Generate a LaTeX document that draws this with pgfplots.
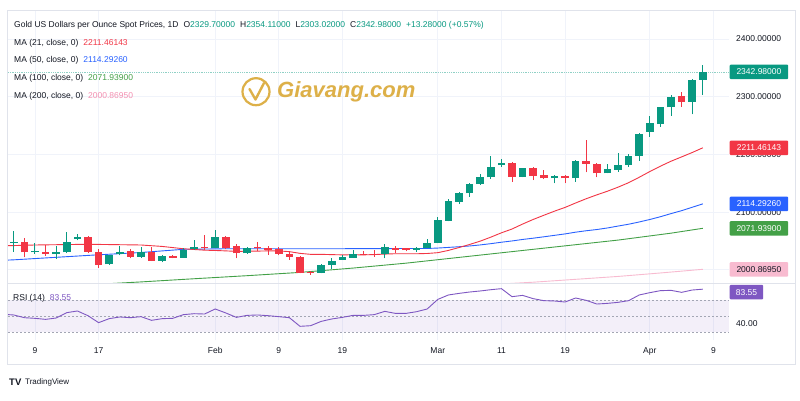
\documentclass[border=0pt]{standalone}
\usepackage{fontspec}
\setmainfont{Liberation Sans}
\usepackage{pgfplots}
\usepackage{pgfplotstable}
\pgfplotsset{compat=1.18}

\definecolor{tvtext}{HTML}{131722}
\definecolor{up}{HTML}{089981}
\definecolor{dn}{HTML}{F23645}
\definecolor{maA}{HTML}{F23645}
\definecolor{maB}{HTML}{2962FF}
\definecolor{maC}{HTML}{43A047}
\definecolor{maD}{HTML}{F8BBD0}
\definecolor{maDtxt}{HTML}{F48FB1}
\definecolor{rsic}{HTML}{7E57C2}
\definecolor{gridc}{HTML}{F0F3FA}
\definecolor{framec}{HTML}{E0E3EB}
\definecolor{goldc}{HTML}{DDB048}
\definecolor{dashc}{HTML}{A3A6B4}

% bars: day index d (0 = 9 Jan), open, high, low, close
\pgfplotstableread{
d o h l c
-2 2047 2067 2031 2049
0 2030 2046 2028 2033
2 2027 2042 2019 2030
3 2030 2066 2029 2049
4 2053 2061.5 2051 2057.4
7 2009.5 2026 2009 2025.6
8 2027 2042 2025 2031.4
10 2023 2040 2021 2031
12 2015.8 2026 2013 2023.4
14 2021 2038 2021 2034
15 2036 2051.6 2034 2039
17 2037.3 2069 2037 2057.4
20 2028.6 2040 2028 2038
27 1995 2009.6 1994 2008
28 2008 2020 2001 2015
29 2017.5 2025 2017 2022.7
30 2021 2034 2021 2027
33 2027 2044 2020 2040
36 2034 2039 2031 2037
37 2037 2053 2037 2047
38 2047 2092 2046 2086
39 2085 2122 2084 2119.8
40 2118 2135.4 2114 2132.6
41 2132.6 2151 2126.7 2148.7
42 2148.7 2166 2147 2160
43 2160 2197 2157 2178.7
44 2181.6 2191.5 2179 2185.6
46 2161.5 2176 2160 2176
49 2158.6 2165 2150 2163
51 2158.6 2190 2152.7 2188.6
54 2167 2184 2167 2174
55 2173 2202 2170 2181.6
56 2181.6 2200 2179 2197.2
57 2197.2 2237 2188.6 2235
58 2239.4 2267 2230.7 2254
59 2252.7 2283 2248 2281.6
60 2281.6 2303 2267 2300
62 2291 2330.5 2269.5 2329.7
63 2329.7 2354.11 2303.02 2342.98
}\upbars

\pgfplotstableread{
d o h l c
-1 2048.7 2054.6 2021.7 2030
1 2031.4 2043 2024.4 2027
5 2056.3 2058 2028.6 2031.4
6 2031.4 2036 2003.6 2008.3
9 2032.6 2036 2020 2022.7
11 2030 2040 2015 2015.8
13 2023.4 2025 2020 2021
16 2039.5 2060 2034.5 2037.3
18 2057 2059 2036 2037
19 2041 2044 2020 2028.6
21 2039.5 2049 2032 2037
22 2038 2041 2026 2035
23 2036 2039 2025 2028
24 2027 2030 2017 2023
25 2023 2024 1994 1995
26 1997 1998 1991 1994.5
31 2028 2032 2025 2026.5
32 2028 2034 2023 2026.5
34 2038 2042 2029 2035
35 2037 2038 2032 2034
45 2185.6 2186 2153 2161.5
47 2176 2179 2155.6 2163
48 2164.3 2173 2157 2158.6
50 2163 2165 2150 2158.6
52 2188.6 2225 2169 2183.4
53 2183.4 2185 2160 2167
61 2301 2307.6 2282.7 2291
}\downbars

\pgfplotsset{
  tvpane/.style={
    scale only axis, width=721pt,
    xmin=-2.547, xmax=65.47,
    axis line style={draw=none},
    major tick length=0pt,
    xtick={0,6,17,23,29,38,44,50,58,64},
    xmajorgrids, grid style={gridc, line width=0.7pt},
    clip=true,
  },
  wick/.style={draw=none, mark=none, forget plot,
    error bars/.cd, y dir=plus, y explicit, error mark=none,
    error bar style={draw=#1, line width=1pt, solid}},
  body/.style={draw=none, mark=none, forget plot,
    error bars/.cd, y dir=plus, y explicit, error mark=none,
    error bar style={draw=#1, line width=7.5pt, solid}},
}

\begin{document}
\begin{tikzpicture}[x=1pt, y=1pt, every node/.style={font=\fontsize{8.5}{10}\selectfont, text=tvtext}]
\path[use as bounding box] (0,0) rectangle (800,400);
\fill[white] (0,0) rectangle (800,400);

% price pane
\begin{axis}[tvpane, at={(8pt,116.7pt)}, anchor=south west, height=273.3pt,
  ymin=1976.6, ymax=2450.3,
  ytick={2000,2100,2200,2300,2400}, ymajorgrids,
  xticklabels={}, yticklabels={}]
  % current price line
  \addplot[up!45, densely dotted, line width=0.8pt, forget plot] coordinates {(-2.547,2342.98) (65.47,2342.98)};
  % moving averages
  \addplot[maD, line width=0.9pt] coordinates {(43,1974.5) (47,1978.5) (51,1983.5) (55,1988.5) (59,1994.5) (63,2000.87)};
  \addplot[maC, line width=0.9pt] coordinates {(5,1974.0) (10,1979.0) (15,1984.5) (20,1989.8) (25,1995.5) (30,2003.0) (35,2011.5) (40,2021.5) (45,2031.5) (50,2041.5) (55,2051.5) (60,2063.5) (63,2071.94)};
  \addplot[maB, line width=0.9pt] coordinates {(-3,2016.5) (-2,2017.3) (1.4,2021) (5.7,2025.7) (10,2030) (14,2035.5) (18,2036.5) (22,2036.5) (28,2036.5) (33,2036.8) (37,2037) (38,2037.7) (39,2038.8) (40,2040.0) (41,2041.3) (42,2043.1) (43,2045.3) (44,2047.8) (45,2050.0) (46,2052.6) (47,2054.8) (48,2057.2) (49,2059.7) (50,2062.2) (51,2065.2) (52,2067.7) (53,2069.8) (54,2072.5) (55,2075.8) (56,2079.0) (57,2082.9) (58,2087.2) (59,2092.0) (60,2097.4) (61,2102.5) (62,2108.4) (63,2114.29)};
  \addplot[maA, line width=0.9pt] coordinates {(-3,2042) (-2,2042) (0,2043) (2,2043.5) (4,2044) (6,2044) (8,2043.5) (10,2043) (12,2040.5) (14,2036.5) (16,2034) (17,2033.5) (18,2032.8) (19,2031.9) (20,2032.2) (21,2032.4) (22,2032.8) (23,2032.7) (24,2031.5) (25,2028.5) (26,2026.8) (27,2026.8) (28,2026.3) (29,2025.9) (30,2026.1) (31,2025.9) (32,2026.4) (33,2027.2) (34,2027.9) (35,2027.9) (36,2027.8) (37,2028.3) (38,2029.7) (39,2033.6) (40,2038.6) (41,2043.9) (42,2049.7) (43,2056.6) (44,2064.1) (45,2070.7) (46,2079.3) (47,2087.3) (48,2094.5) (49,2101.6) (50,2108.1) (51,2115.8) (52,2123.2) (53,2129.9) (54,2136.2) (55,2143.2) (56,2151.0) (57,2160.4) (58,2170.3) (59,2179.6) (60,2188.2) (61,2195.7) (62,2203.3) (63,2211.46)};
  % candles: wicks then bodies
  \addplot[wick=up] table[x=d, y=l, y error expr=\thisrow{h}-\thisrow{l}] {\upbars};
  \addplot[wick=dn] table[x=d, y=l, y error expr=\thisrow{h}-\thisrow{l}] {\downbars};
  \addplot[body=up] table[x=d, y=o, y error expr=\thisrow{c}-\thisrow{o}] {\upbars};
  \addplot[body=dn] table[x=d, y=c, y error expr=\thisrow{o}-\thisrow{c}] {\downbars};
  \coordinate (pC) at (axis cs:65.47,2342.98);
  \coordinate (pA) at (axis cs:65.47,2211.46);
  \coordinate (pB) at (axis cs:65.47,2114.29);
  \coordinate (pG) at (axis cs:65.47,2071.94);
  \coordinate (pD) at (axis cs:65.47,2000.87);
  \coordinate (t24) at (axis cs:65.47,2400);
  \coordinate (t23) at (axis cs:65.47,2300);
  \coordinate (t22) at (axis cs:65.47,2200);
  \coordinate (t21) at (axis cs:65.47,2100);
  \coordinate (t20) at (axis cs:65.47,2000);
\end{axis}

% RSI pane
\begin{axis}[tvpane, at={(8pt,60pt)}, anchor=south west, height=56.7pt,
  ymin=20, ymax=90.9, ytick=\empty,
  xticklabels={9,17,Feb,9,19,Mar,11,19,Apr,9},
  x tick label style={anchor=base, yshift=-13.8pt, font=\fontsize{8.5}{10}\selectfont, text=tvtext}]
  \addplot[draw=none, fill=rsic, fill opacity=0.09, forget plot] coordinates {(-2.547,30) (65.47,30) (65.47,70) (-2.547,70)} -- cycle;
  \addplot[dashc, dash pattern=on 2pt off 2pt, line width=0.7pt] coordinates {(-2.547,70) (65.47,70)};
  \addplot[dashc, dash pattern=on 2pt off 2pt, line width=0.7pt] coordinates {(-2.547,50) (65.47,50)};
  \addplot[dashc, dash pattern=on 2pt off 2pt, line width=0.7pt] coordinates {(-2.547,30) (65.47,30)};
  \addplot[rsic, line width=0.9pt] coordinates {(-3,52.1) (-2,51.3) (-1,47.9) (0,47.1) (1,45.8) (2,47.5) (3,54.2) (4,56.3) (5,50.4) (6,41.7) (7,46.7) (8,48.8) (9,47.9) (10,49.2) (11,44.6) (12,46.7) (13,47.1) (14,51.7) (15,52.9) (16,52.5) (17,58.8) (18,53.8) (19,48.3) (20,50.8) (21,51.3) (22,50.4) (23,49.2) (24,47.9) (25,37.1) (26,37.9) (27,43.3) (28,46.3) (29,48.3) (30,50.8) (31,50.8) (32,51.7) (33,55.8) (34,53.3) (35,53.3) (36,55.4) (37,58.8) (38,70.8) (39,76.3) (40,78.3) (41,80.0) (42,81.3) (43,82.9) (44,84.2) (45,74.2) (46,75.8) (47,71.7) (48,69.2) (49,68.8) (50,67.5) (51,72.5) (52,69.6) (53,65.0) (54,65.8) (55,67.1) (56,69.2) (57,76.3) (58,79.2) (59,81.7) (60,82.1) (61,79.6) (62,82.5) (63,83.55)};
  \coordinate (pR) at (axis cs:65.47,83.55);
  \coordinate (t40) at (axis cs:65.47,40);
\end{axis}

% frame and pane separator
\draw[framec, line width=0.8pt] (7.5,390) rectangle (795,36);
\draw[framec, line width=0.8pt] (7.5,116.7) -- (795,116.7);

% price scale
\foreach \c/\t in {t24/2400.00000, t23/2300.00000, t22/2200.00000, t21/2100.00000, t20/2000.00000}
  \node[anchor=west, inner sep=0pt] at ([xshift=7pt]\c) {\t};
\node[anchor=west, inner sep=0pt] at ([xshift=7pt]t40) {40.00};
\foreach \c/\col/\tc/\t in {pC/up/white/2342.98000, pA/dn/white/2211.46143, pB/maB/white/2114.29260, pG/maC/white/2071.93900, pD/maD/tvtext/2000.86950}
  \node[anchor=west, fill=\col, text=\tc, minimum width=58.5pt, minimum height=14.5pt, inner sep=0pt, rounded corners=1pt] at ([xshift=0.5pt]\c) {\t};
\node[anchor=west, fill=rsic, text=white, minimum width=33.5pt, minimum height=14.5pt, inner sep=0pt, rounded corners=1pt] at ([xshift=0.5pt,yshift=-3pt]pR) {83.55};

% legend texts
\node[anchor=west, inner sep=0pt] at (14,375) {Gold US Dollars per Ounce Spot Prices, 1D\hspace{5pt}O\textcolor{up}{2329.70000}\hspace{5pt}H\textcolor{up}{2354.11000}\hspace{5pt}L\textcolor{up}{2303.02000}\hspace{5pt}C\textcolor{up}{2342.98000}\hspace{5pt}\textcolor{up}{+13.28000 (+0.57\%)}};
\node[anchor=west, inner sep=0pt] at (14,357) {MA (21, close, 0)\hspace{5pt}\textcolor{maA}{2211.46143}};
\node[anchor=west, inner sep=0pt] at (14,339.3) {MA (50, close, 0)\hspace{5pt}\textcolor{maB}{2114.29260}};
\node[anchor=west, inner sep=0pt] at (14,321.7) {MA (100, close, 0)\hspace{5pt}\textcolor{maC}{2071.93900}};
\node[anchor=west, inner sep=0pt] at (14,304) {MA (200, close, 0)\hspace{5pt}\textcolor{maDtxt}{2000.86950}};
\node[anchor=west, inner sep=0pt] at (13,102) {RSI (14)\hspace{5pt}\textcolor{rsic}{83.55}};

% watermark
\draw[goldc, line width=2.2pt] (256,308.3) circle (13.5);
\draw[goldc, line width=2.4pt, line cap=round, line join=round] (249.5,311) -- (255.5,300.5) -- (264,317);
\node[anchor=west, inner sep=0pt, text=goldc, font=\fontsize{22}{24}\selectfont\bfseries\itshape] at (277,308.3) {Giavang.com};

% footer
\node[anchor=west, inner sep=0pt, font=\fontsize{9.5}{10}\selectfont\bfseries] at (9,18) {TV};
\node[anchor=west, inner sep=0pt, font=\fontsize{8}{10}\selectfont] at (25,18) {TradingView};
\end{tikzpicture}
\end{document}
